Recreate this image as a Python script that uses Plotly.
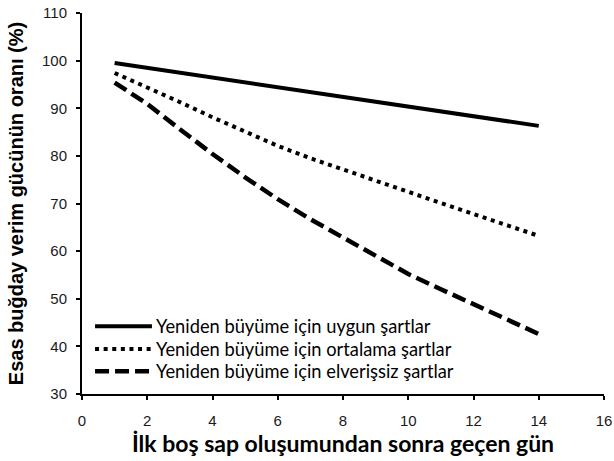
import plotly.graph_objects as go

days = list(range(1, 15))
uygun = [99.5, 98.5, 97.5, 96.5, 95.5, 94.5, 93.5, 92.4, 91.4, 90.4, 89.3, 88.3, 87.3, 86.3]
ortalama = [97.4, 94.4, 91.3, 88.1, 85.0, 82.1, 79.5, 77.1, 74.8, 72.5, 70.1, 67.8, 65.5, 63.2]
elverissiz = [95.4, 90.9, 85.6, 80.4, 75.5, 70.9, 66.7, 62.9, 59.0, 55.2, 52.0, 48.9, 45.7, 42.6]

names = [
    "Yeniden büyüme için uygun şartlar",
    "Yeniden büyüme için ortalama şartlar",
    "Yeniden büyüme için elverişsiz şartlar",
]
series = [uygun, ortalama, elverissiz]
dashes = ["solid", "4px,4.6px", "14px,6px"]
widths = [4, 4, 4.5]

x_ticks = list(range(0, 17, 2))
y_ticks = list(range(30, 111, 10))

fig = go.Figure()
for nm, ys, d, w in zip(names, series, dashes, widths):
    fig.add_trace(go.Scatter(x=days, y=ys, mode="lines", name=nm,
                             line=dict(color="black", width=w, dash=d),
                             showlegend=False))

# custom legend (long line samples as in the reference)
leg_y = [0.178, 0.118, 0.060]
for nm, d, w, ly in zip(names, dashes, widths, leg_y):
    fig.add_shape(type="line", xref="paper", yref="paper",
                  x0=0.025, x1=0.134, y0=ly, y1=ly,
                  line=dict(color="black", width=w, dash=d))
    fig.add_annotation(xref="paper", yref="paper", x=0.138, y=ly,
                       text=nm, showarrow=False, xanchor="left", yanchor="middle",
                       font=dict(family="Lato", size=18.3, color="black"))

axis_common = dict(
    showline=True, linecolor="black", linewidth=2,
    ticks="outside", ticklen=4, tickwidth=2, tickcolor="black",
    showgrid=False, zeroline=False, automargin=False,
    ticklabeloverflow="allow",
    tickfont=dict(family="Liberation Sans", size=15, color="#1a1a1a"),
)

fig.update_xaxes(range=[0, 16], tickvals=x_ticks, **axis_common,
                 ticklabelstandoff=8,
                 title=dict(text="<b>İlk boş sap oluşumundan sonra geçen gün</b>",
                            font=dict(family="Lato", size=23, color="black"),
                            standoff=4))
fig.update_yaxes(range=[30, 110], tickvals=y_ticks, **axis_common,
                 ticklabelstandoff=6,
                 title=dict(text="<b>Esas buğday verim gücünün oranı (%)</b>",
                            font=dict(family="Liberation Sans", size=20, color="black"),
                            standoff=13))

fig.update_layout(width=614, height=461,
                  margin=dict(l=82, r=10, t=13, b=67),
                  plot_bgcolor="white", paper_bgcolor="white")

# remove the default page margin so the figure fills the window
fig.write_html("out.html", config={"displayModeBar": False},
               post_script="document.body.style.margin='0';")
